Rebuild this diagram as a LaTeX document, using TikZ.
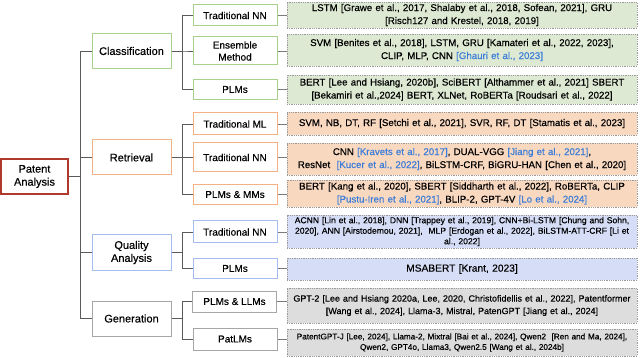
\documentclass[tikz,border=0pt]{standalone}
\usepackage{fontspec}
\setmainfont{Liberation Sans}[FakeBold=0.35]
\usetikzlibrary{calc}
\definecolor{gfill}{HTML}{DDE9D3}
\definecolor{gline}{HTML}{A9D18E}
\definecolor{ofill}{HTML}{F9D8C0}
\definecolor{oline}{HTML}{F4B183}
\definecolor{bfill}{HTML}{D6DEF7}
\definecolor{bline}{HTML}{A4BCF0}
\definecolor{kfill}{HTML}{DDDDDD}
\definecolor{kline}{HTML}{A6A6A6}
\definecolor{rootline}{HTML}{B0392B}
\definecolor{conn}{HTML}{5A5A5A}
\definecolor{cite}{HTML}{3B7DD8}
\definecolor{dotline}{HTML}{9A9A9A}
\newcommand{\ct}[1]{\textcolor{cite}{#1}}
\tikzset{
  rootbox/.style={draw=rootline, line width=1.4pt, fill=white, minimum width=67pt, minimum height=35pt, inner sep=0pt, align=center, font=\fontsize{11}{13}\selectfont},
  catbox/.style={draw=#1, line width=1pt, fill=white, minimum width=79pt, minimum height=35pt, inner sep=0pt, align=center, font=\fontsize{11}{13}\selectfont},
  subbox/.style={draw=#1, line width=1pt, fill=white, minimum width=84pt, inner sep=0pt, align=center, font=\fontsize{10}{12}\selectfont},
  leafbox/.style={draw=dotline, densely dotted, line width=0.8pt, fill=#1, minimum width=350pt, text width=349pt, inner sep=0pt, align=center, font=\fontsize{9.7}{13}\selectfont},
  conline/.style={draw=conn, line width=0.9pt},
}
\begin{document}
\begin{tikzpicture}[x=1pt,y=-1pt]
\useasboundingbox (0,0) rectangle (640,358);
% root
\node[rootbox] (root) at (34.5,176.5) {Patent\\Analysis};
% categories
\node[catbox=gline] (cls) at (131.5,51) {Classification};
\node[catbox=oline] (ret) at (131.5,157.5) {Retrieval};
\node[catbox=bline] (qua) at (131.5,252.5) {Quality\\Analysis};
\node[catbox=kline] (gen) at (131.5,318.5) {Generation};
% sub nodes
\node[subbox=gline, minimum height=21pt] (c1) at (235,15.5) {Traditional NN};
\node[subbox=gline, minimum height=28pt] (c2) at (235,51) {Ensemble\\Method};
\node[subbox=gline, minimum height=20pt] (c3) at (235,89.5) {PLMs};
\node[subbox=oline, minimum height=22pt] (r1) at (235,124) {Traditional ML};
\node[subbox=oline, minimum height=29pt] (r2) at (235,157.5) {Traditional NN};
\node[subbox=oline, minimum height=20pt] (r3) at (235,194.5) {PLMs \& MMs};
\node[subbox=bline, minimum height=22pt] (q1) at (235,232) {Traditional NN};
\node[subbox=bline, minimum height=20pt] (q2) at (235,268.5) {PLMs};
\node[subbox=kline, minimum height=21pt] (g1) at (234.5,301.5) {PLMs \& LLMs};
\node[subbox=kline, minimum height=22pt] (g2) at (235,339) {PatLMs};
% leaves
\node[leafbox=gfill, minimum height=26pt] (lc1) at (462,15) {LSTM [Grawe et al., 2017, Shalaby et al., 2018, Sofean, 2021], GRU\\{}[Risch127 and Krestel, 2018, 2019]};
\node[leafbox=gfill, minimum height=32pt] (lc2) at (462,50) {SVM [Benites et al., 2018], LSTM, GRU [Kamateri et al., 2022, 2023],\\{}CLIP, MLP, CNN \ct{[Ghauri et al., 2023]}};
\node[leafbox=gfill, minimum height=29pt] (lc3) at (462,89.5) {BERT [Lee and Hsiang, 2020b], SciBERT [Althammer et al., 2021] SBERT\\{}[Bekamiri et al.,2024] BERT, XLNet, RoBERTa [Roudsari et al., 2022]};
\node[leafbox=ofill, minimum height=23pt] (lr1) at (462,123.5) {SVM, NB, DT, RF [Setchi et al., 2021], SVR, RF, DT [Stamatis et al., 2023]};
\node[leafbox=ofill, minimum height=32pt] (lr2) at (462,159) {CNN \ct{[Kravets et al., 2017]}, DUAL-VGG \ct{[Jiang et al., 2021]},\\{}ResNet\ \ \ct{[Kucer et al., 2022]}, BiLSTM-CRF, BiGRU-HAN [Chen et al., 2020]};
\node[leafbox=ofill, minimum height=27pt] (lr3) at (462,193.5) {BERT [Kang et al., 2020], SBERT [Siddharth et al., 2022], RoBERTa, CLIP\\{}\ct{[Pustu-Iren et al., 2021]}, BLIP-2, GPT-4V \ct{[Lo et al., 2024]}};
\node[leafbox=bfill, minimum height=33pt, font=\fontsize{8.6}{10.5}\selectfont] (lq1) at (462,231.5) {ACNN [Lin et al., 2018], DNN [Trappey et al., 2019], CNN+Bi-LSTM [Chung and Sohn,\\{}2020], ANN [Airstodemou, 2021],\ \ MLP [Erdogan et al., 2022], BiLSTM-ATT-CRF [Li et\\{}al., 2022]};
\node[leafbox=bfill, minimum height=22pt, font=\fontsize{10.2}{12}\selectfont] (lq2) at (462,269) {MSABERT [Krant, 2023]};
\node[leafbox=kfill, minimum height=35pt, font=\fontsize{9}{12.5}\selectfont] (lg1) at (462,305.5) {GPT-2 [Lee and Hsiang 2020a, Lee, 2020, Christofidellis et al., 2022], Patentformer\\{}[Wang et al., 2024], Llama-3, Mistral, PatenGPT [Jiang et al., 2024]};
\node[leafbox=kfill, minimum height=27pt, font=\fontsize{8.2}{10.5}\selectfont] (lg2) at (462,342.5) {PatentGPT-J [Lee, 2024], Llama-2, Mixtral [Bai et al., 2024], Qwen2\ \ [Ren and Ma, 2024],\\{}Qwen2, GPT4o, Llama3, Qwen2.5 [Wang et al., 2024b]};
% root to categories
\foreach \c in {cls,ret,qua,gen}{
  \draw[conline] (root.east) -- ++(12,0) |- (\c.west);
}
% categories to subs
\foreach \c/\s in {cls/c1,cls/c2,cls/c3,ret/r1,ret/r2,ret/r3,qua/q1,qua/q2,gen/g1,gen/g2}{
  \draw[conline] (\c.east) -- ++(11,0) |- (\s.west);
}
% subs to leaves
\foreach \s/\l in {c1/lc1,c2/lc2,c3/lc3,r1/lr1,r2/lr2,r3/lr3,q1/lq1,q2/lq2,g1/lg1,g2/lg2}{
  \draw[conline, draw=conn!80] (\s.east) -- (\s.east -| \l.west);
}
\end{tikzpicture}
\end{document}
